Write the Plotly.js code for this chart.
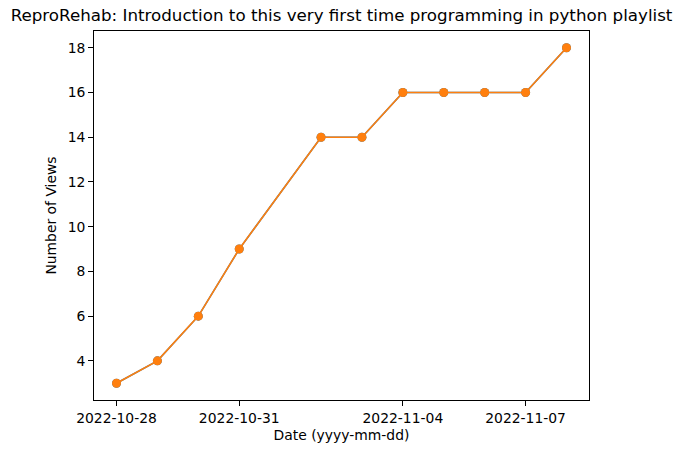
<!DOCTYPE html>
<html>
<head>
<meta charset="utf-8">
<script src="https://cdn.plot.ly/plotly-3.0.1.min.js"></script>
<style>html,body{margin:0;padding:0;background:#fff;}#chart{width:681px;height:453px;}</style>
</head>
<body>
<div id="chart"></div>
<script>
const dates = ["2022-10-28","2022-10-29","2022-10-30","2022-10-31","2022-11-02","2022-11-03","2022-11-04","2022-11-05","2022-11-06","2022-11-07","2022-11-08"];
const views = [3, 4, 6, 9, 14, 14, 16, 16, 16, 16, 18];
const xTickVals = ["2022-10-28","2022-10-31","2022-11-04","2022-11-07"];
const xTickText = ["2022-10-28","2022-10-31","2022-11-04","2022-11-07"];
const yTickVals = [4, 6, 8, 10, 12, 14, 16, 18];

const font = {family: "DejaVu Sans", size: 13.9, color: "#000"};

const traces = [
  {x: dates, y: views, type: "scatter", mode: "lines+markers",
   line: {color: "#1f77b4", width: 1.5}, marker: {color: "#1f77b4", size: 9}, hoverinfo: "skip"},
  {x: dates, y: views, type: "scatter", mode: "lines+markers",
   line: {color: "#ff7f0e", width: 1.6}, marker: {color: "#ff7f0e", size: 9}}
];

const axisCommon = {
  showline: true, linecolor: "#000", linewidth: 1, mirror: true,
  ticks: "outside", ticklen: 4.9, tickwidth: 1, tickcolor: "#000",
  showgrid: false, zeroline: false, tickfont: font
};

const layout = {
  width: 681, height: 453,
  margin: {l: 94, r: 92, t: 31, b: 53},
  paper_bgcolor: "#fff", plot_bgcolor: "#fff",
  showlegend: false,
  font: font,
  title: {text: "ReproRehab: Introduction to this very first time programming in python playlist",
          font: {family: "DejaVu Sans", size: 16.7, color: "#000"},
          x: 0.5015, xanchor: "center", y: 0.967, yanchor: "middle"},
  xaxis: Object.assign({}, axisCommon, {
    type: "date",
    range: ["2022-10-27 10:48", "2022-11-08 13:12"],
    tickmode: "array", tickvals: xTickVals, ticktext: xTickText,
    title: {text: "Date (yyyy-mm-dd)", font: font, standoff: 5}
  }),
  yaxis: Object.assign({}, axisCommon, {
    range: [2.25, 18.75],
    tickmode: "array", tickvals: yTickVals,
    title: {text: "Number of Views", font: font, standoff: 7}
  })
};

Plotly.newPlot("chart", traces, layout, {displayModeBar: false, staticPlot: true});
</script>
</body>
</html>
